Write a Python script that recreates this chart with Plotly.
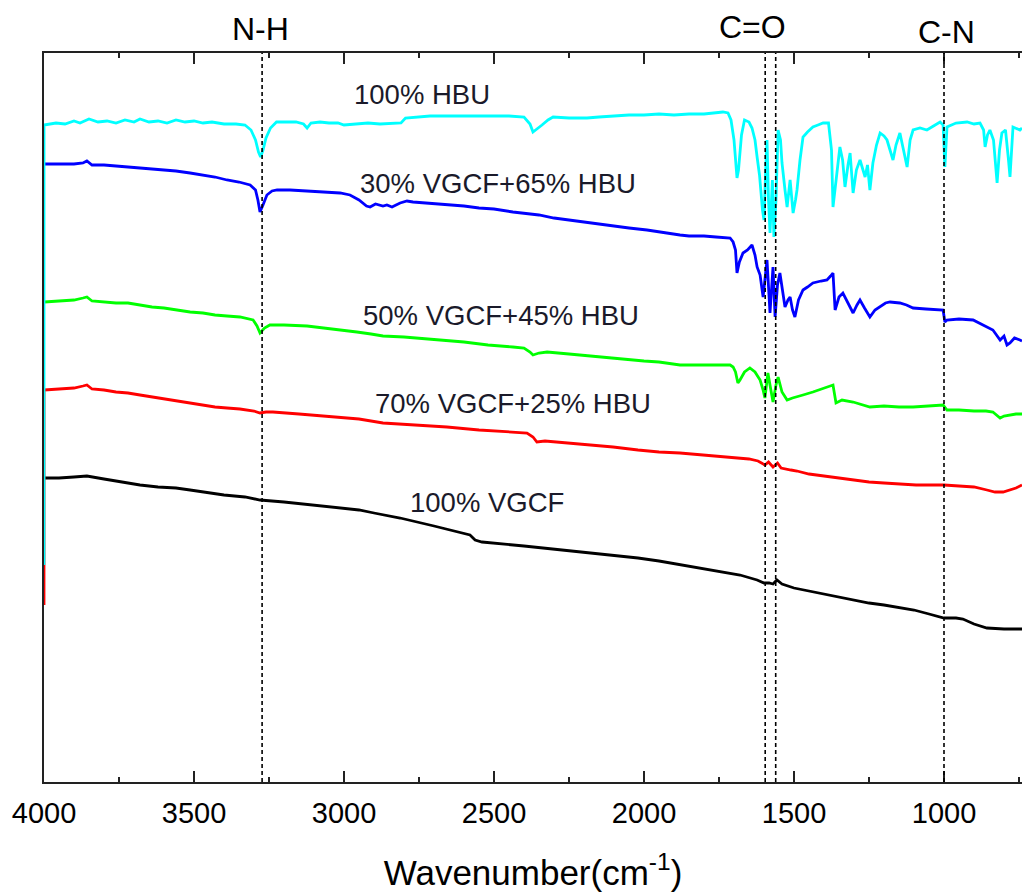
import plotly.graph_objects as go

# ---- data: (wavenumber cm-1, transmittance a.u.) ----
hbu100 = [
    (4000, 217), (4000, 657), (3960, 659), (3930, 658), (3900, 661), (3880, 659), (3850, 663), (3820, 660),
    (3790, 661), (3760, 659), (3730, 662), (3700, 660), (3680, 663), (3650, 660), (3620, 661), (3590, 659),
    (3560, 662), (3530, 660), (3500, 661), (3470, 659), (3440, 660), (3400, 658), (3360, 658), (3330, 657),
    (3310, 652), (3295, 642), (3285, 630), (3278, 625), (3270, 632), (3260, 644), (3245, 654), (3225, 660),
    (3200, 660), (3160, 660), (3135, 658), (3123, 654), (3110, 659), (3080, 660), (3050, 659), (3020, 659),
    (3000, 657), (2960, 658), (2920, 659), (2880, 658), (2840, 659), (2810, 659), (2795, 664), (2760, 665),
    (2713, 666), (2650, 666), (2600, 666), (2550, 666), (2500, 666), (2450, 666), (2400, 665), (2380, 658),
    (2370, 650), (2355, 654), (2340, 657), (2320, 662), (2303, 665), (2250, 664), (2190, 664), (2150, 665),
    (2100, 666), (2050, 667), (2000, 667), (1950, 668), (1900, 667), (1850, 668), (1800, 668), (1760, 669),
    (1737, 670), (1720, 669), (1710, 662), (1700, 642), (1690, 604), (1685, 612), (1675, 647), (1665, 662),
    (1650, 660), (1640, 654), (1630, 642), (1623, 625), (1615, 607), (1605, 572), (1600, 562), (1595, 607),
    (1590, 642), (1585, 582), (1580, 549), (1572, 602), (1567, 545), (1560, 582), (1553, 652), (1545, 642),
    (1540, 619), (1530, 592), (1523, 575), (1513, 602), (1503, 569), (1495, 582), (1490, 592), (1480, 622),
    (1470, 645), (1455, 650), (1437, 655), (1420, 657), (1403, 659), (1385, 659), (1375, 632), (1370, 575),
    (1360, 602), (1347, 635), (1338, 622), (1330, 595), (1320, 617), (1313, 629), (1303, 589), (1292, 612),
    (1280, 622), (1263, 605), (1255, 617), (1247, 592), (1237, 619), (1225, 637), (1213, 649), (1200, 646),
    (1190, 642), (1180, 632), (1170, 622), (1160, 637), (1147, 649), (1135, 632), (1123, 615), (1113, 642),
    (1103, 652), (1080, 654), (1057, 652), (1035, 656), (1013, 660), (1003, 657), (997, 615), (990, 655),
    (960, 659), (923, 660), (900, 658), (880, 659), (868, 652), (863, 635), (855, 647), (847, 652),
    (835, 642), (823, 599), (815, 632), (807, 649), (795, 652), (785, 622), (780, 605), (770, 655),
    (760, 654), (747, 652), (740, 654),
]

vgcf30_hbu65 = [
    (4000, 618), (3950, 618), (3900, 618), (3870, 619), (3857, 621), (3840, 617), (3800, 617), (3760, 616),
    (3720, 615), (3680, 614), (3640, 613), (3600, 612), (3560, 611), (3513, 609), (3470, 607), (3430, 605),
    (3390, 602), (3350, 600), (3313, 597), (3295, 592), (3287, 582), (3280, 570), (3270, 577), (3257, 587),
    (3240, 591), (3223, 592), (3180, 592), (3123, 591), (3070, 590), (3013, 589), (2980, 587), (2950, 582),
    (2925, 576), (2913, 575), (2895, 578), (2870, 576), (2857, 577), (2840, 575), (2813, 579), (2790, 581),
    (2770, 580), (2720, 579), (2657, 577), (2600, 576), (2550, 574), (2500, 573), (2437, 570), (2380, 568),
    (2350, 567), (2300, 564), (2250, 562), (2213, 560), (2150, 558), (2100, 556), (2050, 554), (1990, 552),
    (1950, 550), (1900, 548), (1880, 547), (1850, 546), (1800, 546), (1760, 545), (1713, 544), (1703, 540),
    (1695, 532), (1690, 509), (1682, 520), (1670, 529), (1655, 532), (1640, 537), (1630, 527), (1623, 515),
    (1613, 507), (1603, 485), (1595, 507), (1590, 522), (1580, 469), (1570, 515), (1563, 465), (1555, 497),
    (1547, 509), (1538, 492), (1530, 475), (1520, 482), (1513, 485), (1505, 472), (1497, 465), (1485, 482),
    (1470, 492), (1455, 495), (1437, 499), (1410, 501), (1390, 502), (1378, 506), (1370, 509), (1363, 472),
    (1350, 485), (1337, 489), (1320, 479), (1303, 469), (1290, 477), (1280, 482), (1265, 474), (1247, 465),
    (1230, 472), (1213, 475), (1195, 479), (1180, 480), (1147, 479), (1125, 477), (1103, 474), (1060, 473),
    (1003, 472), (997, 460), (990, 462), (950, 463), (903, 462), (870, 457), (850, 454), (837, 452),
    (825, 447), (813, 442), (800, 446), (790, 437), (780, 439), (765, 444), (747, 442), (740, 441),
]

vgcf50_hbu45 = [
    (4000, 480), (3950, 481), (3900, 482), (3870, 484), (3857, 485), (3840, 481), (3800, 480), (3760, 479),
    (3720, 479), (3680, 477), (3640, 475), (3600, 474), (3560, 472), (3513, 470), (3470, 469), (3430, 467),
    (3390, 466), (3347, 465), (3303, 462), (3290, 456), (3280, 449), (3265, 454), (3247, 457), (3200, 457),
    (3123, 456), (3060, 454), (3000, 452), (2957, 450), (2910, 448), (2870, 446), (2800, 445), (2750, 444),
    (2680, 442), (2600, 440), (2520, 437), (2437, 435), (2400, 434), (2380, 430), (2370, 427), (2350, 429),
    (2323, 430), (2250, 428), (2180, 426), (2103, 424), (2050, 422), (2000, 421), (1950, 420), (1880, 417),
    (1800, 417), (1713, 417), (1703, 415), (1695, 410), (1687, 399), (1680, 402), (1665, 410), (1647, 414),
    (1630, 410), (1613, 402), (1603, 392), (1597, 384), (1587, 409), (1578, 392), (1570, 380), (1560, 397),
    (1553, 405), (1540, 390), (1523, 382), (1505, 384), (1490, 385), (1470, 387), (1437, 390), (1400, 394),
    (1375, 396), (1370, 397), (1360, 379), (1340, 382), (1303, 380), (1280, 378), (1247, 375), (1200, 376),
    (1150, 375), (1103, 375), (1050, 376), (1003, 377), (990, 372), (950, 372), (900, 371), (860, 371),
    (837, 370), (825, 367), (813, 364), (800, 366), (780, 367), (760, 368), (740, 368),
]

vgcf70_hbu25 = [
    (4000, 177), (4000, 392), (3950, 393), (3900, 394), (3870, 396), (3857, 397), (3840, 393), (3800, 392),
    (3760, 390), (3720, 389), (3680, 387), (3640, 385), (3600, 383), (3560, 381), (3513, 379), (3470, 377),
    (3430, 375), (3390, 374), (3347, 373), (3300, 371), (3280, 369), (3260, 370), (3237, 370), (3150, 368),
    (3070, 366), (3013, 365), (2950, 363), (2870, 359), (2813, 358), (2750, 357), (2657, 355), (2550, 352),
    (2450, 350), (2390, 349), (2370, 345), (2357, 340), (2330, 341), (2250, 339), (2150, 336), (2103, 335),
    (2020, 332), (1950, 330), (1880, 329), (1800, 327), (1703, 325), (1650, 323), (1620, 321), (1597, 317),
    (1585, 320), (1570, 315), (1555, 319), (1543, 314), (1510, 312), (1490, 311), (1450, 308), (1400, 306),
    (1357, 304), (1300, 302), (1250, 300), (1200, 299), (1150, 298), (1093, 297), (1050, 297), (1000, 297),
    (950, 296), (900, 295), (857, 292), (830, 290), (803, 290), (780, 292), (760, 294), (740, 297),
]

vgcf100 = [
    (4000, 304), (3950, 304), (3900, 305), (3857, 306), (3800, 303), (3740, 300), (3680, 297), (3620, 295),
    (3560, 294), (3513, 292), (3450, 289), (3400, 287), (3330, 285), (3280, 282), (3200, 280), (3100, 277),
    (3013, 274), (2950, 272), (2900, 269), (2813, 264), (2700, 256), (2580, 247), (2563, 242), (2540, 240),
    (2400, 236), (2300, 233), (2200, 230), (2100, 227), (2020, 224), (1950, 221), (1850, 216), (1750, 211),
    (1680, 207), (1623, 202), (1600, 199), (1583, 199), (1570, 198), (1557, 202), (1540, 198), (1500, 194),
    (1450, 191), (1400, 188), (1357, 185), (1300, 182), (1250, 179), (1200, 177), (1160, 175), (1100, 172),
    (1050, 168), (1000, 164), (960, 164), (937, 163), (900, 158), (857, 154), (800, 153), (740, 153),
]

series_names = ["100% VGCF", "70% VGCF+25% HBU", "50% VGCF+45% HBU", "30% VGCF+65% HBU", "100% HBU"]
series_data = [vgcf100, vgcf70_hbu25, vgcf50_hbu45, vgcf30_hbu65, hbu100]
series_colors = ["#000000", "#FF0000", "#00FF00", "#0000FF", "#00FFFF"]

# label anchor (wavenumber, transmittance)
label_pos = [(2523, 280), (2437, 379), (2477, 467), (2487, 599), (2740, 688)]

band_names = ["N-H", "C=O", "C-N"]
band_label_x = [3277, 1640, 993]
band_label_y = [1.033, 1.036, 1.029]
band_lines = [3273, 1596, 1561, 1000]

x_ticks = [4000, 3500, 3000, 2500, 2000, 1500, 1000]

FONT = "Liberation Sans, Arial, sans-serif"

fig = go.Figure()
for name, data, color in zip(series_names, series_data, series_colors):
    xs = [p[0] for p in data]
    ys = [p[1] for p in data]
    fig.add_trace(go.Scatter(x=xs, y=ys, mode="lines", name=name,
                             line=dict(color=color, width=2.8)))

for xv in band_lines:
    fig.add_shape(type="line", x0=xv, x1=xv, xref="x", y0=0, y1=1, yref="paper",
                  line=dict(color="black", width=1.6, dash="4px,3px"))

for name, (lx, ly) in zip(series_names, label_pos):
    fig.add_annotation(x=lx, y=ly, xref="x", yref="y", text=name, showarrow=False,
                       xanchor="center", yanchor="middle",
                       font=dict(family=FONT, size=27.5, color="#1a1a2a"))

for name, bx, by in zip(band_names, band_label_x, band_label_y):
    fig.add_annotation(x=bx, y=by, xref="x", yref="paper", text=name, showarrow=False,
                       xanchor="center", yanchor="middle",
                       font=dict(family=FONT, size=32, color="black"))

fig.update_layout(
    width=1022, height=893,
    margin=dict(l=44, r=0, t=53, b=111, autoexpand=False),
    plot_bgcolor="white", paper_bgcolor="white",
    showlegend=False,
    xaxis=dict(
        range=[4000, 740], tickvals=x_ticks, ticktext=[str(v) for v in x_ticks],
        ticks="inside", ticklen=11, tickwidth=1.5, tickcolor="#222",
        minor=dict(dtick=250, tick0=0, ticks="inside", ticklen=5, tickwidth=1.5, tickcolor="#222"),
        showline=True, linecolor="#222", linewidth=1.5, mirror="ticks",
        showgrid=False, zeroline=False, automargin=False,
        tickfont=dict(family=FONT, size=29, color="black"),
        ticklabelstandoff=4,
        title=dict(text="Wavenumber(cm<sup>-1</sup>)", font=dict(family=FONT, size=35, color="black"),
                   standoff=33),
    ),
    yaxis=dict(
        range=[0, 729], showticklabels=False, ticks="", showgrid=False, zeroline=False,
        showline=True, linecolor="#222", linewidth=1.5, automargin=False,
    ),
)

fig.write_html("out.html", config={"displayModeBar": False},
               post_script="document.body.style.margin='0px';")
